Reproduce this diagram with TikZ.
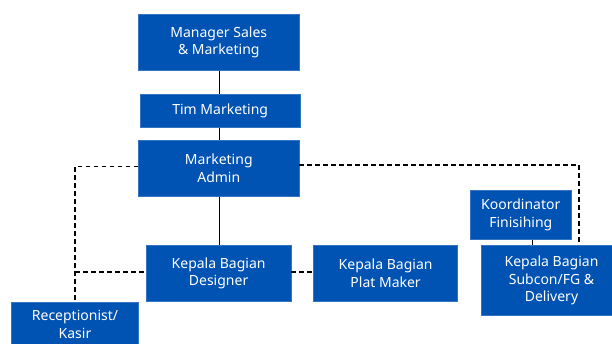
\documentclass[tikz,border=0pt]{standalone}
\usepackage{fontspec}
\setmainfont{Noto Sans}
\definecolor{boxblue}{RGB}{0,83,179}
\tikzset{
  orgbox/.style={draw=boxblue!80!white, line width=0.6pt, fill=boxblue, text=white, align=center,
    font=\fontsize{14}{17.6}\selectfont, inner sep=0pt},
  solidline/.style={draw=black, line width=1pt},
  dashline/.style={draw=black, line width=1.3pt, dash pattern=on 4.5pt off 3.5pt}
}
\begin{document}
\begin{tikzpicture}[x=1pt,y=-1pt]
\useasboundingbox (0,0) rectangle (612,343);
\clip (0,0) rectangle (612,343);
\fill[white] (0,0) rectangle (612,343);
% boxes
\node[orgbox, minimum width=160.4pt, minimum height=56.7pt] (mgr) at (218.8,42.4) {Manager Sales\\\& Marketing};
\node[orgbox, minimum width=160.5pt, minimum height=33pt] (tim) at (220.2,111.2) {Tim Marketing};
\node[orgbox, minimum width=160.4pt, minimum height=56.3pt] (adm) at (218.8,168.2) {Marketing\\Admin};
\node[orgbox, minimum width=144.4pt, minimum height=56.7pt] (des) at (218.6,273.3) {Kepala Bagian\\Designer};
\node[orgbox, minimum width=143.7pt, minimum height=56.7pt] (plat) at (385.6,273.3) {Kepala Bagian\\Plat Maker};
\node[orgbox, minimum width=100.3pt, minimum height=48.6pt] (koor) at (520.8,215) {Koordinator\\Finisihing};
\node[orgbox, minimum width=141pt, minimum height=70.7pt] (sub) at (551.5,280.4) {Kepala Bagian\\Subcon/FG \&\\Delivery};
\node[orgbox, minimum width=127.3pt, minimum height=45pt] (rec) at (75,324.7) {Receptionist/\\Kasir};
% coordinates
\coordinate (lc1) at (75,166.7);
\coordinate (lc2) at (75,272);
\coordinate (rc1) at (579,165);
\coordinate (rc2) at (579,245);
% solid connectors
\draw[solidline] (mgr.south -| 219.7,0) -- (tim.north -| 219.7,0);
\draw[solidline] (tim.south -| 219.7,0) -- (adm.north -| 219.7,0);
\draw[solidline] (adm.south -| 219.7,0) -- (des.north -| 219.7,0);
\draw[solidline] (koor.south -| 532.8,0) -- (sub.north -| 532.8,0);
% dashed connectors
\draw[dashline] (adm.west |- lc1) -- (lc1) -- (rec.north);
\draw[dashline] (lc2) -- (des.west |- lc2);
\draw[dashline] (des.east |- lc2) -- (plat.west |- lc2);
\draw[dashline] (adm.east |- rc1) -- (rc1) -- (rc2);
\end{tikzpicture}
\end{document}
